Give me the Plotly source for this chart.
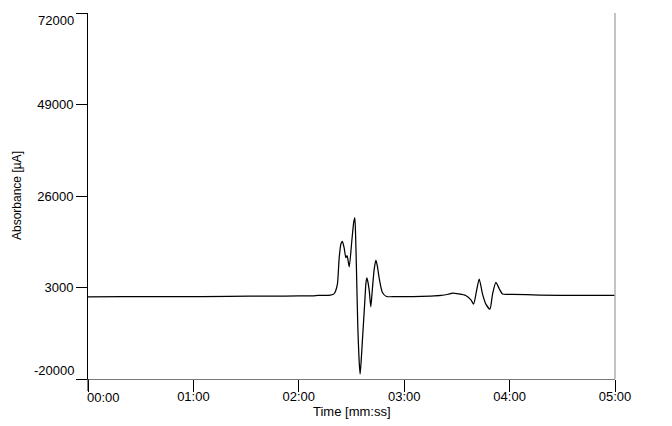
import plotly.graph_objects as go

# Data
time_s = [0, 20, 50, 80, 105, 120, 128, 131, 135, 138, 140, 141, 142, 143, 144, 144.8,
          145.8, 146.8, 147.5, 148.7, 150.2, 151.3, 151.9, 152.4, 152.8, 153.6, 154.3,
          154.9, 155.5, 156.2, 157.6, 158.2, 158.7, 159.3, 160.1, 161.0, 161.9, 162.9,
          163.9, 164.8, 165.7, 167.6, 169.9, 175, 185, 195, 201, 205, 207.5, 211, 215,
          218, 219.5, 221.2, 222.7, 224.6, 226.5, 228.8, 230.3, 232.2, 234.1, 236,
          241.7, 257, 280, 300]
absorbance = [650, 680, 700, 760, 850, 870, 900, 1000, 1000, 1100, 1400, 2200, 3900, 10500,
              14000, 14600, 13000, 10500, 11000, 8200, 14800, 19500, 20500, 15000, 8000,
              -7000, -15000, -18800, -15500, -10400, -300, 4000, 5400, 4500, 2200, -1850,
              2700, 7500, 9900, 8200, 5500, 1750, 750, 700, 720, 850, 1000, 1300, 1600,
              1400, 1000, -100, -1170, 2200, 5130, 1350, -1170, -2430, 1350, 4270, 2700,
              1350, 1300, 1100, 1000, 1000]

x_tick_vals = [0, 60, 120, 180, 240, 300]
x_tick_text = ["00:00", "01:00", "02:00", "03:00", "04:00", "05:00"]
y_tick_vals = [-20000, 3000, 26000, 49000, 72000]
y_tick_text = ["-20000", "3000", "26000", "49000", "72000"]
x_title = "Time [mm:ss]"
y_title = "Absorbance [µA]"

FONT = "Liberation Sans, Arial, sans-serif"
TXT = "#000000"

fig = go.Figure()
fig.add_trace(go.Scatter(
    x=time_s, y=absorbance, mode="lines",
    line=dict(color="black", width=1.25, shape="spline", smoothing=0.6),
    showlegend=False, hoverinfo="skip"))

# edge tick labels are nudged inward in the reference; middle ones are real tick labels
y_text_mid = [t if v not in (y_tick_vals[0], y_tick_vals[-1]) else "" for v, t in zip(y_tick_vals, y_tick_text)]
x_text_mid = [t if v != x_tick_vals[0] else "" for v, t in zip(x_tick_vals, x_tick_text)]

# page has an 8px body margin, so the figure is offset by 8px
W, H = 664, 418
fig.update_layout(
    width=W, height=H,
    margin=dict(l=80, r=57, t=5, b=47),
    paper_bgcolor="white", plot_bgcolor="white",
    font=dict(family=FONT, size=13, color=TXT),
    xaxis=dict(
        range=[0, 300], tickvals=x_tick_vals, ticktext=x_text_mid,
        ticks="outside", ticklen=12, tickcolor="black", tickwidth=1,
        ticklabelstandoff=-7,
        showline=True, linecolor="#7a7a7a", linewidth=1,
        showgrid=False, zeroline=False, automargin=False,
        tickfont=dict(size=13),
    ),
    yaxis=dict(
        range=[-20000, 72000], tickvals=y_tick_vals, ticktext=y_text_mid,
        ticks="outside", ticklen=11, tickcolor="black", tickwidth=1,
        showline=True, linecolor="black", linewidth=1,
        showgrid=False, zeroline=False, automargin=False,
        tickfont=dict(size=13),
    ),
)

# right border line (light gray)
fig.add_shape(type="line", xref="paper", yref="paper", x0=1, x1=1, y0=0, y1=1,
              line=dict(color="#b0b0b0", width=1.5))
# y axis line extends down to the x tick length
fig.add_shape(type="line", xref="paper", yref="paper", x0=0, x1=0, y0=0, y1=-12/366,
              line=dict(color="black", width=1))

# axis titles
fig.add_annotation(x=0.5, y=0, xref="paper", yref="paper", text=x_title,
                   showarrow=False, xanchor="center", yanchor="middle", yshift=-32,
                   font=dict(size=13, family=FONT, color=TXT))
fig.add_annotation(x=0, y=0.5, xref="paper", yref="paper", text=y_title, textangle=-90,
                   showarrow=False, xanchor="center", yanchor="middle", xshift=-71,
                   font=dict(size=12, family=FONT, color=TXT))
# edge labels
fig.add_annotation(x=0, y=y_tick_vals[-1], xref="paper", yref="y", text=y_tick_text[-1],
                   showarrow=False, xanchor="right", xshift=-12, yanchor="middle", yshift=-7,
                   font=dict(size=13, family=FONT, color=TXT))
fig.add_annotation(x=0, y=y_tick_vals[0], xref="paper", yref="y", text=y_tick_text[0],
                   showarrow=False, xanchor="right", xshift=-12, yanchor="middle", yshift=9,
                   font=dict(size=13, family=FONT, color=TXT))
fig.add_annotation(x=x_tick_vals[0], y=0, xref="x", yref="paper", text=x_tick_text[0],
                   showarrow=False, xanchor="left", xshift=-3, yanchor="middle", yshift=-18,
                   font=dict(size=13, family=FONT, color=TXT))

fig.write_html("out.html")
